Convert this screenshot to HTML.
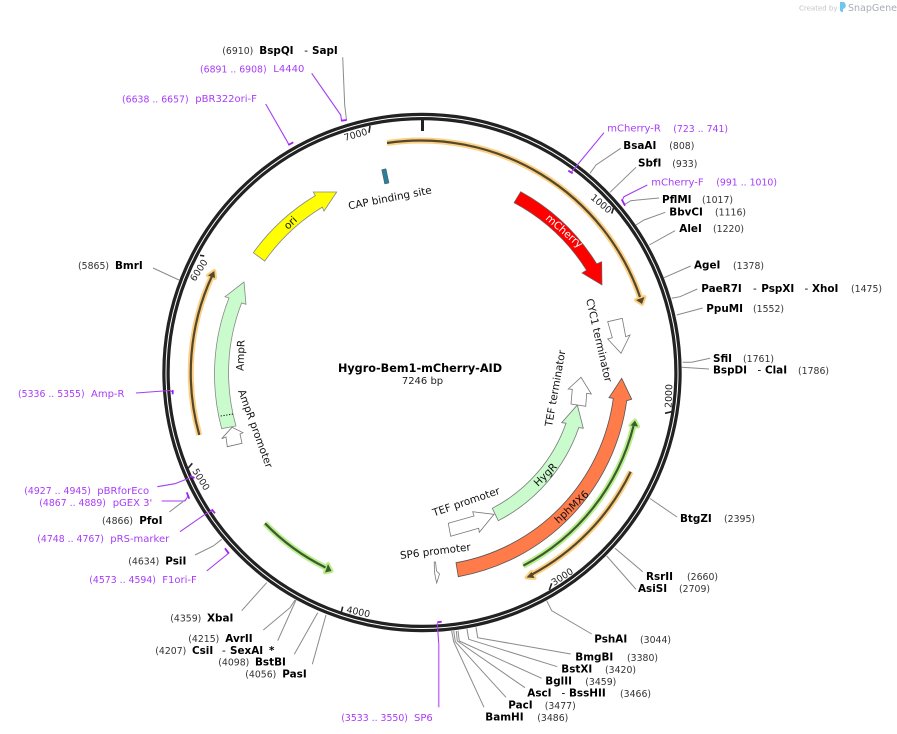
<!DOCTYPE html>
<html><head><meta charset="utf-8"><style>
html,body{margin:0;padding:0;background:#fff}
svg{display:block}
text{font-family:"DejaVu Sans","Liberation Sans",sans-serif;white-space:pre}
.b{font-weight:bold;font-size:10.4px;fill:#000}
.n{font-size:9.33px;fill:#333}
.p{font-size:10px;fill:#a83cf8}
.q{font-size:9.33px;fill:#a83cf8}
.f{font-size:10.4px;fill:#111}
.t{font-size:9.4px;fill:#222}
.l{fill:none;stroke:#8a8a8a;stroke-width:1}
.v{fill:none;stroke:#a53df5;stroke-width:1.1}
.u{fill:none;stroke:#a020f0;stroke-width:1.8}
.w{fill:#fff;stroke:#777;stroke-width:.8}
</style></head><body>
<svg width="897" height="734" viewBox="0 0 897 734" xmlns="http://www.w3.org/2000/svg">
<rect width="897" height="734" fill="#fff"/>
<text x="799" y="10.5" style="font-size:7px;fill:#c4c4c4">Created by</text>
<path d="M840,2 h4 q3,3 1,6 l-2,1 v3 q-3,0 -3,-2z" fill="#6ec6ee"/>
<text x="848" y="11" style="font-size:9.5px;fill:#a8adb3">SnapGene</text>

<circle cx="422" cy="372.5" r="256" fill="none" stroke="#222" stroke-width="7.4"/>
<circle cx="422" cy="372.5" r="256" fill="none" stroke="#fff" stroke-width="1"/>

<!-- ticks -->
<g fill="none" stroke="#222" stroke-width="1.6">
<path d="M422.5,120V131" stroke-width="3"/>
<path d="M370,125.7L369,132.7"/><path d="M613.5,208L611.7,213.5"/><path d="M671.7,411.7L665,413.3"/>
<path d="M551.7,583.3L549.3,590"/><path d="M342.7,606.7L341,613.3"/><path d="M192.3,463.3L188.3,468"/><path d="M204.3,256L200,255.3"/>
</g>
<text class="t" transform="translate(345,141) rotate(-16)">7000</text>
<text class="t" transform="translate(590,198.5) rotate(40)">1000</text>
<text class="t" transform="translate(671.5,408) rotate(-88)">2000</text>
<text class="t" transform="translate(554,586) rotate(-33)">3000</text>
<text class="t" transform="translate(346,612.5) rotate(12)">4000</text>
<text class="t" transform="translate(192,471) rotate(58)">5000</text>
<text class="t" transform="translate(195,282) rotate(-57)">6000</text>

<!-- halo arcs -->
<g fill="#fbd084" stroke="#fbd084" stroke-width="4" stroke-linejoin="round">
<path d="M387,143A232,232 0 0 1 640,297" fill="none" stroke-width="6"/>
<path d="M636,300L644.5,297L642,304z"/>
<path d="M630.7,471.7A231,231 0 0 1 531,575" fill="none" stroke-width="6"/>
<path d="M531.5,572L534.5,578L526.5,577.5z"/>
<path d="M199.3,435A231,231 0 0 1 212,276" fill="none" stroke-width="6"/>
<path d="M208,275.5L215,278L214.3,271z"/>
</g>
<g fill="#b9ef8b" stroke="#b9ef8b" stroke-width="4" stroke-linejoin="round">
<path d="M523.3,565.7A218,218 0 0 0 633.5,426" fill="none" stroke-width="6"/>
<path d="M630.5,425.5L638,426.5L635,420.5z"/>
<path d="M265,523.3A218,218 0 0 0 325.5,567.5" fill="none" stroke-width="6"/>
<path d="M328,564L325,572.5L331.5,571z"/>
</g>
<g fill="#54472c" stroke="none">
<path d="M387,143A232,232 0 0 1 640,297" fill="none" stroke="#54472c" stroke-width="2.2"/>
<path d="M636,300L644.5,297L642,304z"/>
<path d="M630.7,471.7A231,231 0 0 1 531,575" fill="none" stroke="#54472c" stroke-width="2.2"/>
<path d="M531.5,572L534.5,578L526.5,577.5z"/>
<path d="M199.3,435A231,231 0 0 1 212,276" fill="none" stroke="#54472c" stroke-width="2.2"/>
<path d="M208,275.5L215,278L214.3,271z"/>
</g>
<g fill="#3e5a30">
<path d="M523.3,565.7A218,218 0 0 0 633.5,426" fill="none" stroke="#3e5a30" stroke-width="2.2"/>
<path d="M630.5,425.5L638,426.5L635,420.5z"/>
<path d="M265,523.3A218,218 0 0 0 325.5,567.5" fill="none" stroke="#3e5a30" stroke-width="2.2"/>
<path d="M328,564L325,572.5L331.5,571z"/>
</g>

<!-- features -->
<path d="M520.7,191.7A206,206 0 0 1 596.7,263.8L601.7,261.7L602,285L582,273L586.5,270.2A194,194 0 0 0 514,202.7z" fill="#f00" stroke="#666" stroke-width=".7"/>
<path d="M456,562.7A193,193 0 0 0 613.3,398.3L609,397.7L621.7,378.3L631.7,399.3L626.7,400.7A207,207 0 0 1 458.3,576.7z" fill="#ff7b4a" stroke="#555" stroke-width=".8"/>
<path d="M492.3,508.3A152.5,152.5 0 0 0 566,423.2L561.7,422.7L577.3,405L583.3,428.3L578.8,427.6A166,166 0 0 1 498.3,520.7z" fill="#c9fbcd" stroke="#777" stroke-width=".8"/>
<path d="M221.7,428.7A208,208 0 0 1 229,298L225,296.7L244,282L246,304.3L241.6,303A193.5,193.5 0 0 0 236,426z" fill="#c9fbcd" stroke="#888" stroke-width=".8"/>
<path d="M220.7,416L233.3,414" fill="none" stroke="#000" stroke-width="1" stroke-dasharray="1.2 1.6"/>
<path d="M253.3,252.7A207,207 0 0 1 315.4,195.6L313.3,192L336.7,192L324,211L322.3,207.1A193.5,193.5 0 0 0 264.7,261z" fill="#ff0" stroke="#888" stroke-width=".8"/>
<path d="M381.7,169.7L386,168.7L389,183L384.7,184z" fill="#2a7f9a" stroke="#555" stroke-width=".5"/>
<path class="w" d="M448.3,523.3L474,516L472.7,511.7L494,514.3L479.3,532.3L478.7,528.3L450.7,536.3z"/>
<path class="w" d="M581,377.3L568.3,389L572.3,389.3L571,404L585.7,406.3L586.7,393.3L591.3,394z"/>
<path class="w" d="M607.7,321.7L622.3,318.3L625.7,336.7L630,335L621,353.3L607.7,339L612.3,337.7z"/>
<path class="w" d="M221.7,438.7L226,437L227.3,446.7L242,443.3L240,434L243,432.7L232,427.3z"/>
<path class="w" d="M434.2,562L435.5,562L436.5,571L439.5,574L436.7,583L435.5,578L434.5,572z"/>

<!-- feature labels -->
<text class="f" style="fill:#fff" transform="translate(545,219) rotate(41)">mCherry</text>
<text class="f" transform="translate(558.5,524) rotate(-43)">hphMX6</text>
<text class="f" transform="translate(538,487) rotate(-45)">HygR</text>
<text class="f" transform="translate(434,516.5) rotate(-19)">TEF promoter</text>
<text class="f" transform="translate(552,427) rotate(-80)">TEF terminator</text>
<text class="f" transform="translate(586,299.5) rotate(77)">CYC1 terminator</text>
<text class="f" transform="translate(400.5,559) rotate(-7)">SP6 promoter</text>
<text class="f" transform="translate(243.5,371) rotate(-88)">AmpR</text>
<text class="f" transform="translate(238,391) rotate(70)">AmpR promoter</text>
<text class="f" transform="translate(288,230) rotate(-44)">ori</text>
<text class="f" transform="translate(349,209.5) rotate(-11)">CAP binding site</text>

<text x="420" y="372" text-anchor="middle" style="font-weight:bold;font-size:11.25px;fill:#000">Hygro-Bem1-mCherry-AID</text>
<text x="422.5" y="384" text-anchor="middle" style="font-size:10px;fill:#222">7246 bp</text>

<!-- enzyme connectors -->
<g class="l">
<path class="l" d="M342.7,57.3L344.7,105L346.5,120"/>
<path class="l" d="M620.7,148.3L596,165L590,173.3"/>
<path class="l" d="M636,167.3L610,192.3"/>
<path class="l" d="M659,198L630.7,200.7L625,204.3"/>
<path class="l" d="M665.3,212.3L644,220L636,225"/>
<path class="l" d="M675,230.7L649.3,245"/>
<path class="l" d="M690.7,266L664,277.7"/>
<path class="l" d="M697.3,289L680,296.7L671.7,298.3"/>
<path class="l" d="M702.7,308L676.7,315"/>
<path class="l" d="M710,358.3L691.7,362.3L682.7,362.3"/>
<path class="l" d="M709,369L681.7,367.3"/>
<path class="l" d="M677,517L650,498.5"/>
<path class="l" d="M642.7,571.7L615,548.3"/>
<path class="l" d="M636,589.3L606.7,556"/>
<path class="l" d="M591.7,634L551.7,610.7L546.7,600.7"/>
<path class="l" d="M570.7,654L477.7,637.7L476,627.3"/>
<path class="l" d="M557.3,666.7L468.7,639.3L467,629"/>
<path class="l" d="M541.7,678.3L459.3,641L458,630.7"/>
<path class="l" d="M525,687.7L457.3,641L456.3,631"/>
<path class="l" d="M506,697.3L455.3,641.7L453.7,631"/>
<path class="l" d="M484,707.3L453.7,641.7L451.7,631"/>
<path class="l" d="M169.3,512L186,499.3"/>
<path class="l" d="M195,555L213.3,546L221.7,539.3"/>
<path class="l" d="M241.7,610.7L266.7,582.7"/>
<path class="l" d="M263.3,630L290,607.7L295,600"/>
<path class="l" d="M277.7,640.7L296,600"/>
<path class="l" d="M294.3,654.3L317.7,612.7"/>
<path class="l" d="M312.3,664.3L326,615"/>
<path class="l" d="M153,268L179,280"/>
</g>
<!-- primer connectors -->
<path class="v" d="M311.7,73.3L340.7,115L341.5,120"/><path class="u" d="M341,120.7L346.7,120"/>
<path class="v" d="M265.7,104L287.3,141.7L289,145"/><path class="u" d="M288.3,145L293.3,142.3"/>
<path class="v" d="M604,132.7L577.3,165L571.7,171.7"/><path class="u" d="M568.3,170.7L572.7,173.3"/>
<path class="v" d="M647.3,185L624,196.7L622.7,199.3"/><path class="u" d="M621.7,199.3L625,205.7"/>
<path d="M438.7,707.3V643.3" fill="none" stroke="#c67bfb" stroke-width="1.6"/><path class="v" d="M438.7,643.3L437.3,623.3"/><path class="u" d="M437.3,622.3L441.7,621.7"/>
<path class="v" d="M157.3,486.7L175,483.7L190,477.7"/><path class="u" d="M190,476L194.5,478"/>
<path d="M161.7,501H185" fill="none" stroke="#c67bfb" stroke-width="1.6"/><path class="v" d="M185,501L188,496"/><path class="u" d="M186.7,492.3L189.3,498.7"/>
<path class="v" d="M180,531.7L205,514.3L213.3,510"/><path class="u" d="M211.7,509.3L215,513.3"/>
<path class="v" d="M206.7,571L229.3,552.7"/><path class="u" d="M225,548.3L228.7,553.3"/>
<path class="v" d="M136,393L170,390.5L172.5,392"/><path class="u" d="M172.7,390V394.3"/>

<!-- top labels -->
<text class="n" x="222.3" y="54">(6910)</text><text class="b" x="259.3" y="54">BspQI</text><text class="b" x="304.3" y="54" style="font-weight:normal">-</text><text class="b" x="312" y="54">SapI</text>
<text class="q" x="200" y="72.3">(6891 .. 6908)</text><text class="p" x="273.3" y="72">L4440</text>
<text class="q" x="122" y="102.3">(6638 .. 6657)</text><text class="p" x="195.3" y="102">pBR322ori-F</text>

<!-- right labels -->
<text class="p" x="607.3" y="131.7">mCherry-R</text><text class="q" x="673.3" y="132">(723 .. 741)</text>
<text class="b" x="623.3" y="149">BsaAI</text><text class="n" x="669.3" y="149">(808)</text>
<text class="b" x="638" y="166.7">SbfI</text><text class="n" x="672.3" y="167">(933)</text>
<text class="p" x="651.3" y="185.3">mCherry-F</text><text class="q" x="716.3" y="185.3">(991 .. 1010)</text>
<text class="b" x="662" y="203">PflMI</text><text class="n" x="702" y="203">(1017)</text>
<text class="b" x="669.3" y="215.3">BbvCI</text><text class="n" x="715" y="215.3">(1116)</text>
<text class="b" x="679.3" y="232">AleI</text><text class="n" x="713" y="232">(1220)</text>
<text class="b" x="694" y="268.7">AgeI</text><text class="n" x="733" y="269">(1378)</text>
<text class="b" x="701.3" y="292">PaeR7I</text><text class="b" x="753" y="292" style="font-weight:normal">-</text><text class="b" x="761.3" y="292">PspXI</text><text class="b" x="804.5" y="292" style="font-weight:normal">-</text><text class="b" x="812" y="292">XhoI</text><text class="n" x="851" y="292">(1475)</text>
<text class="b" x="706.3" y="312">PpuMI</text><text class="n" x="753" y="312">(1552)</text>
<text class="b" x="713" y="362">SfiI</text><text class="n" x="743" y="362">(1761)</text>
<text class="b" x="713" y="373.7">BspDI</text><text class="b" x="757.5" y="373.7" style="font-weight:normal">-</text><text class="b" x="765" y="373.7">ClaI</text><text class="n" x="798" y="374">(1786)</text>
<text class="b" x="680" y="522">BtgZI</text><text class="n" x="724" y="522">(2395)</text>
<text class="b" x="646" y="580">RsrII</text><text class="n" x="687" y="580">(2660)</text>
<text class="b" x="638" y="592">AsiSI</text><text class="n" x="679" y="592">(2709)</text>

<!-- bottom labels -->
<text class="b" x="594.3" y="642.7">PshAI</text><text class="n" x="640" y="643">(3044)</text>
<text class="b" x="575.3" y="660.7">BmgBI</text><text class="n" x="627" y="661">(3380)</text>
<text class="b" x="561.3" y="672.7">BstXI</text><text class="n" x="605" y="673">(3420)</text>
<text class="b" x="545.3" y="684.7">BglII</text><text class="n" x="585.3" y="685">(3459)</text>
<text class="b" x="527.3" y="696.7">AscI</text><text class="b" x="561.5" y="696.7" style="font-weight:normal">-</text><text class="b" x="569" y="696.7">BssHII</text><text class="n" x="620" y="697">(3466)</text>
<text class="b" x="508.3" y="708.7">PacI</text><text class="n" x="544.7" y="709">(3477)</text>
<text class="b" x="485.3" y="720.7">BamHI</text><text class="n" x="537.3" y="721">(3486)</text>
<text class="q" x="341.3" y="721">(3533 .. 3550)</text><text class="p" x="414" y="721">SP6</text>

<!-- left labels -->
<text class="n" x="78" y="269">(5865)</text><text class="b" x="115" y="269">BmrI</text>
<text class="q" x="18" y="397">(5336 .. 5355)</text><text class="p" x="91" y="397">Amp-R</text>
<text class="q" x="24.3" y="494">(4927 .. 4945)</text><text class="p" x="97.3" y="494">pBRforEco</text>
<text class="q" x="39.3" y="506">(4867 .. 4889)</text><text class="p" x="112.7" y="506">pGEX 3'</text>
<text class="n" x="102" y="524">(4866)</text><text class="b" x="139.3" y="524">PfoI</text>
<text class="q" x="37.3" y="542">(4748 .. 4767)</text><text class="p" x="110.3" y="542">pRS-marker</text>
<text class="n" x="128.3" y="564.7">(4634)</text><text class="b" x="165.3" y="564.7">PsiI</text>
<text class="q" x="89.3" y="583">(4573 .. 4594)</text><text class="p" x="162.3" y="583">F1ori-F</text>
<text class="n" x="170.3" y="621.7">(4359)</text><text class="b" x="207" y="621.7">XbaI</text>
<text class="n" x="188.3" y="642">(4215)</text><text class="b" x="225.3" y="642">AvrII</text>
<text class="n" x="155.3" y="654">(4207)</text><text class="b" x="192" y="654">CsiI</text><text class="b" x="222" y="654" style="font-weight:normal">-</text><text class="b" x="230" y="654">SexAI</text><text class="b" x="269" y="654">*</text>
<text class="n" x="218.3" y="665.7">(4098)</text><text class="b" x="255" y="665.7">BstBI</text>
<text class="n" x="245.3" y="677.7">(4056)</text><text class="b" x="282.3" y="677.7">PasI</text>
</svg>
</body></html>
